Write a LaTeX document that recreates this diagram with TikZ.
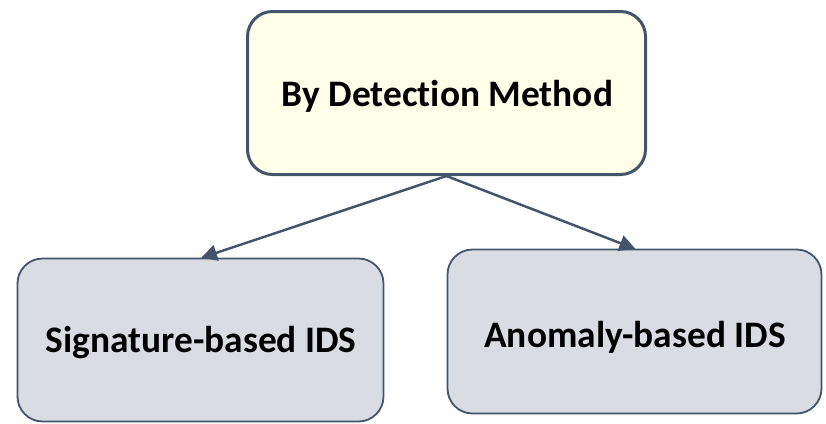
\documentclass[tikz,border=0pt]{standalone}
\usepackage{fontspec}
\setmainfont{Carlito}[Ligatures=NoCommon]
\usetikzlibrary{arrows.meta}
\definecolor{edge}{HTML}{44546A}
\definecolor{rootfill}{HTML}{FFFFE9}
\definecolor{leaffill}{HTML}{D9DCE2}
\tikzset{
  label font/.style={font=\fontsize{37.4}{44}\selectfont\bfseries},
  box/.style={draw=edge, rounded corners=25pt, align=center,
    label font, inner sep=0pt},
  rootbox/.style={box, fill=rootfill, line width=3pt},
  leafbox/.style={box, fill=leaffill, line width=1.8pt},
  link/.style={draw=edge, line width=2.5pt,
    -{Triangle[length=16pt,width=16pt]}, shorten >=-1pt}
}
\begin{document}
\begin{tikzpicture}[x=1pt,y=-1pt]
  \useasboundingbox (0,0) rectangle (826,423);
  \node[rootbox, minimum width=398pt, minimum height=163pt] (root) at (446.5,93) {};
  \node[label font] (roottext) at (447.5,96) {By Detection Method};
  \node[leafbox, minimum width=366pt, minimum height=163pt] (sig) at (200.5,340) {};
  \node[label font] (sigtext) at (201,343) {Signature-based IDS};
  \node[leafbox, minimum width=374pt, minimum height=164pt] (ano) at (634.5,331.5) {};
  \node[label font] (anotext) at (635,337) {Anomaly-based IDS};
  \draw[link] (root.south) -- ([xshift=1.5pt]sig.north);
  \draw[link] (root.south) -- (ano.north);
\end{tikzpicture}
\end{document}
